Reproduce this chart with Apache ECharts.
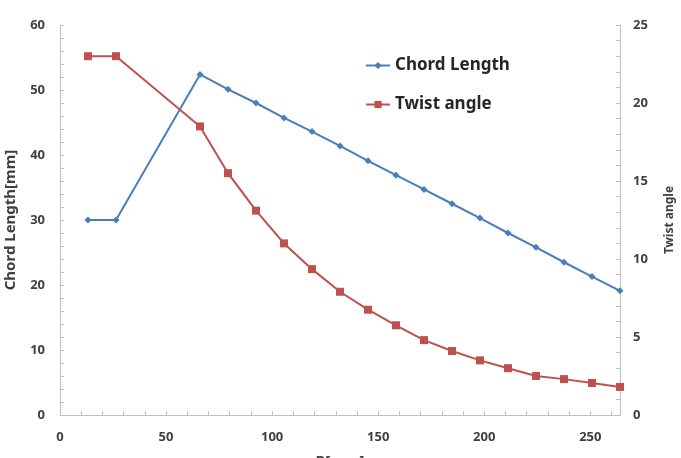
<!DOCTYPE html>
<html>
<head>
<meta charset="utf-8">
<script src="https://cdn.jsdelivr.net/npm/echarts@6/dist/echarts.min.js"></script>
<style>
html, body { margin: 0; padding: 0; background: #fff; }
#chart { width: 681px; height: 458px; }
</style>
</head>
<body>
<div id="chart"></div>
<script>
// radius positions [mm]
var radius = [13.2, 26.4, 66, 79.2, 92.4, 105.6, 118.8, 132, 145.2, 158.4, 171.6, 184.8, 198, 211.2, 224.4, 237.6, 250.8, 264];
// chord length [mm]
var chordLength = [30, 30, 52.4, 50.1, 48.0, 45.7, 43.6, 41.4, 39.1, 36.9, 34.7, 32.5, 30.3, 28.0, 25.8, 23.5, 21.3, 19.1];
// twist angle [deg]
var twistAngle = [23, 23, 18.5, 15.5, 13.1, 11.0, 9.35, 7.9, 6.75, 5.75, 4.8, 4.1, 3.5, 3.0, 2.5, 2.3, 2.05, 1.8];

var font = 'Noto Sans';
var axisGray = '#bfbfbf';
var labelColor = '#404040';
var TICK = 4;

function pairs(xs, ys) {
    var out = [];
    for (var i = 0; i < xs.length; i++) {
        out.push([xs[i], ys[i]]);
    }
    return out;
}

var labelStyle = { color: labelColor, fontFamily: font, fontWeight: 'bold', fontSize: 13 };
var nameStyle = { color: labelColor, fontFamily: font, fontWeight: 'bold', fontSize: 15 };

// visible axis: line, labels, name (ticks come from the overlay axes)
function mainAxis(opt) {
    return Object.assign({
        type: 'value',
        axisLine: { show: true, lineStyle: { color: axisGray, width: 1 } },
        axisTick: { show: false },
        splitLine: { show: false }
    }, opt);
}

// axis on a slightly smaller grid: its outward ticks end on the real axis line
function tickAxis(opt) {
    return Object.assign({
        type: 'value',
        axisLine: { show: false },
        axisTick: { show: true, length: TICK, lineStyle: { color: axisGray } },
        axisLabel: { show: false },
        splitLine: { show: false }
    }, opt);
}

var plot = { left: 60, right: 61, top: 25, bottom: 43 };

var chart = echarts.init(document.getElementById('chart'));
chart.setOption({
    animation: false,
    backgroundColor: '#fff',
    grid: [
        Object.assign({ outerBoundsMode: 'none', containLabel: false }, plot),
        // x ticks
        { left: plot.left, right: plot.right, top: plot.top, bottom: plot.bottom + TICK, outerBoundsMode: 'none', containLabel: false },
        // y ticks
        { left: plot.left + TICK, right: plot.right + TICK, top: plot.top, bottom: plot.bottom, outerBoundsMode: 'none', containLabel: false }
    ],
    legend: {
        orient: 'vertical',
        left: 360,
        top: 52,
        itemWidth: 24,
        itemHeight: 9,
        itemGap: 22,
        textStyle: { color: '#262626', fontFamily: font, fontWeight: 'bold', fontSize: 17 },
        data: ['Chord Length', 'Twist angle']
    },
    xAxis: [
        mainAxis({
            gridIndex: 0,
            min: 0,
            max: 264,
            interval: 50,
            name: 'R[mm]',
            nameLocation: 'middle',
            nameGap: 39,
            nameTextStyle: nameStyle,
            axisLabel: Object.assign({}, labelStyle, { margin: 16, showMaxLabel: false })
        }),
        tickAxis({ gridIndex: 1, position: 'bottom', min: 0, max: 264, interval: 10 }),
        tickAxis({ gridIndex: 2, show: false, min: 0, max: 264 })
    ],
    yAxis: [
        mainAxis({
            gridIndex: 0,
            min: 0,
            max: 60,
            interval: 10,
            name: 'Chord Length[mm]',
            nameLocation: 'middle',
            nameRotate: 90,
            nameGap: 42,
            nameTextStyle: nameStyle,
            axisLabel: Object.assign({}, labelStyle, { margin: 15 })
        }),
        mainAxis({
            gridIndex: 0,
            position: 'right',
            min: 0,
            max: 25,
            interval: 5,
            name: 'Twist angle',
            nameLocation: 'middle',
            nameRotate: 90,
            nameGap: 44,
            nameTextStyle: Object.assign({}, nameStyle, { fontSize: 12 }),
            axisLabel: Object.assign({}, labelStyle, { margin: 13 })
        }),
        tickAxis({ gridIndex: 1, show: false, min: 0, max: 60 }),
        tickAxis({ gridIndex: 2, position: 'left', min: 0, max: 60, interval: 2 }),
        tickAxis({ gridIndex: 2, position: 'right', min: 0, max: 25, interval: 1 })
    ],
    series: [
        {
            name: 'Chord Length',
            type: 'line',
            xAxisIndex: 0,
            yAxisIndex: 0,
            data: pairs(radius, chordLength),
            symbol: 'diamond',
            symbolSize: 7,
            lineStyle: { color: '#4a7ebb', width: 2 },
            itemStyle: { color: '#4a7ebb' }
        },
        {
            name: 'Twist angle',
            type: 'line',
            xAxisIndex: 0,
            yAxisIndex: 1,
            data: pairs(radius, twistAngle),
            symbol: 'rect',
            symbolSize: 8,
            lineStyle: { color: '#c0504d', width: 2 },
            itemStyle: { color: '#c0504d' }
        }
    ]
});
</script>
</body>
</html>
